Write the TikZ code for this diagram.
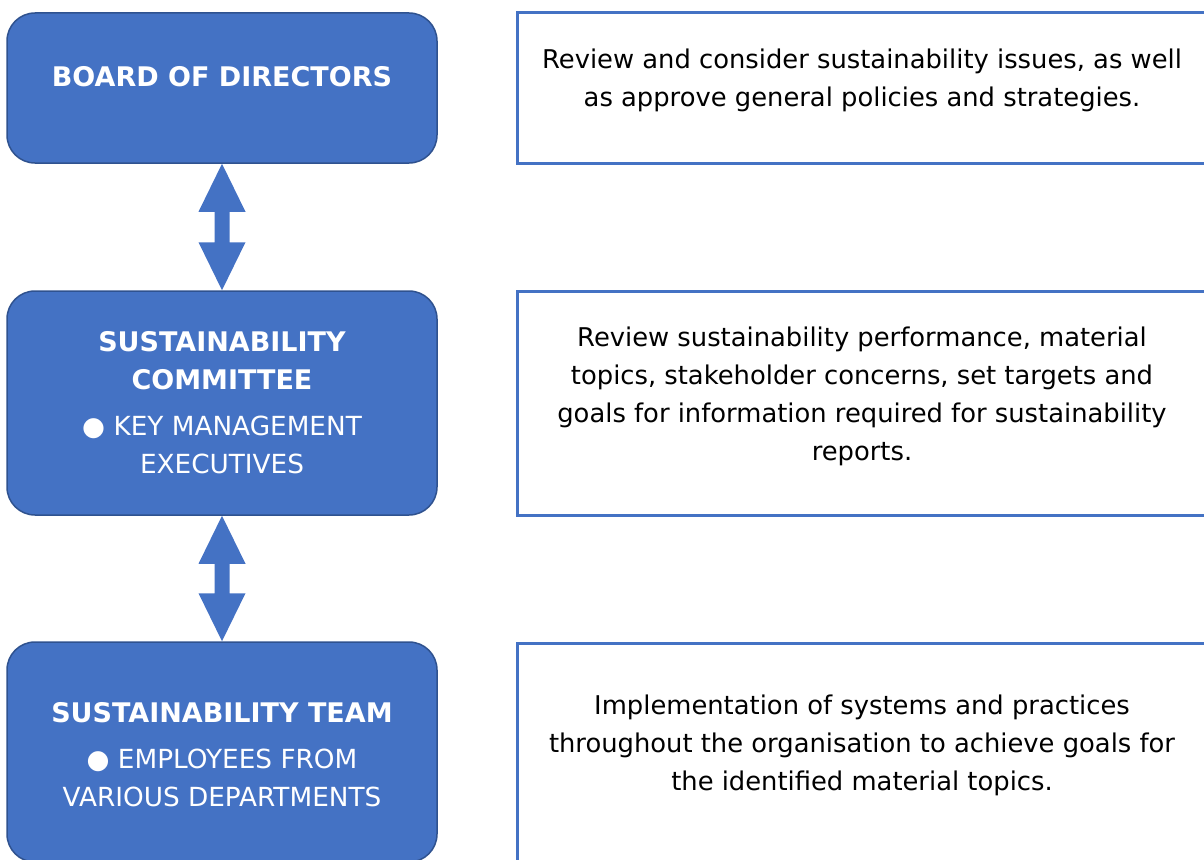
\documentclass[tikz,border=0pt]{standalone}
\usepackage{fontspec}
\setmainfont{DejaVu Sans}
\usepackage{xcolor}
\definecolor{boxblue}{RGB}{68, 114, 196}
\definecolor{edgeblue}{RGB}{47, 82, 143}
\usetikzlibrary{calc, positioning}

\begin{document}
\begin{tikzpicture}[x=1pt, y=-1pt,
    rolebox/.style={draw=edgeblue, line width=1.5pt, fill=boxblue, rounded corners=28pt,
      minimum width=430pt, inner sep=0pt},
    descbox/.style={draw=boxblue, line width=3pt, fill=white, minimum width=694pt, inner sep=0pt},
    roletext/.style={text=white, align=center, font=\fontsize{27}{38}\selectfont\bfseries},
    desctext/.style={align=center, font=\fontsize{25.8}{38}\selectfont},
    flow/.style={fill=boxblue}]
    \newcommand\rolemembers[1]{{\fontsize{26.3}{38}\selectfont\mdseries #1}}
    \clip (0,0) rectangle (1204,859);
    % left column
    \node[rolebox, minimum height=150pt] (board) at (222,88) {};
    \node[rolebox, minimum height=224pt] (committee) at (222,403) {};
    \node[rolebox, minimum height=220pt] (team) at (222,752) {};
    % right column
    \node[descbox, minimum height=150pt, right=78pt of board] (boarddesc) {};
    \node[descbox, minimum height=224pt, right=78pt of committee] (committeedesc) {};
    \node[descbox, minimum height=218pt, right=78pt of team] (teamdesc) {};
    % texts
    \node[roletext] (boardname) at (222,77) {BOARD OF DIRECTORS};
    \node[roletext] (committeename) at (222,403)
      {SUSTAINABILITY\\COMMITTEE\\[8pt]\rolemembers{● KEY MANAGEMENT}\\\rolemembers{EXECUTIVES}};
    \node[roletext] (teamname) at (222,755)
      {SUSTAINABILITY TEAM\\[8pt]\rolemembers{● EMPLOYEES FROM}\\\rolemembers{VARIOUS DEPARTMENTS}};
    \node[desctext] (boardtext) at (862,80)
      {Review and consider sustainability issues, as well\\as approve general policies and strategies.};
    \node[desctext] (committeetext) at (862,396)
      {Review sustainability performance, material\\topics, stakeholder concerns, set targets and\\goals for information required for sustainability\\reports.};
    \node[desctext] (teamtext) at (862,745)
      {Implementation of systems and practices\\throughout the organisation to achieve goals for\\the identified material topics.};
    % double arrows
    \foreach \src/\dst in {board/committee, committee/team}
      \fill[flow] (\src.south) -- ++(23.5,48) -- ++(-16,0) -- ($(\dst.north)+(7.5,-48)$)
        -- ++(16,0) -- (\dst.north) -- ++(-23.5,-48) -- ++(16,0)
        -- ($(\src.south)+(-7.5,48)$) -- ++(-16,0) -- cycle;
\end{tikzpicture}
\end{document}
